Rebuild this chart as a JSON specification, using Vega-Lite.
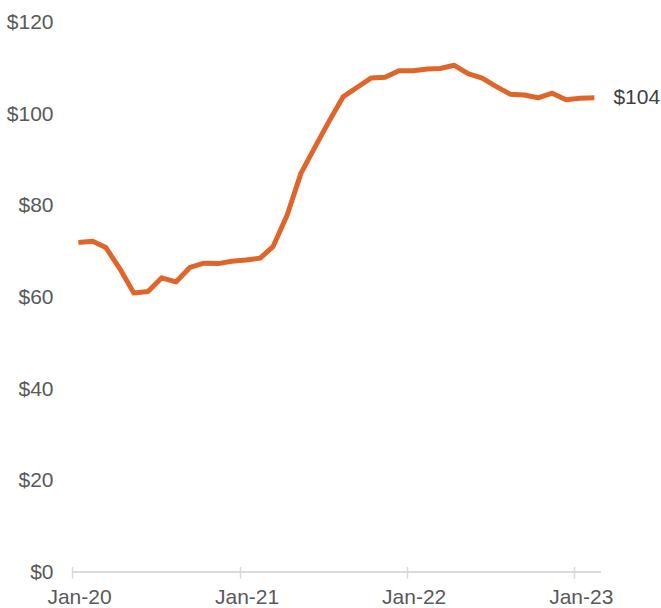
{
  "$schema": "https://vega.github.io/schema/vega-lite/v6.json",
  "autosize": "none",
  "width": 528.8,
  "height": 549.6,
  "padding": {"left": 72, "top": 22.7, "right": 60.2, "bottom": 35.7},
  "background": "white",
  "config": {"view": {"stroke": null}},
  "data": {
    "values": [
      {"date": "2020-01-15", "price": 72.0},
      {"date": "2020-02-15", "price": 72.3},
      {"date": "2020-03-15", "price": 70.9},
      {"date": "2020-04-15", "price": 66.2},
      {"date": "2020-05-15", "price": 61.0},
      {"date": "2020-06-15", "price": 61.3},
      {"date": "2020-07-15", "price": 64.3},
      {"date": "2020-08-15", "price": 63.4},
      {"date": "2020-09-15", "price": 66.6},
      {"date": "2020-10-15", "price": 67.5},
      {"date": "2020-11-15", "price": 67.4},
      {"date": "2020-12-15", "price": 67.9},
      {"date": "2021-01-15", "price": 68.2},
      {"date": "2021-02-15", "price": 68.6},
      {"date": "2021-03-15", "price": 71.1},
      {"date": "2021-04-15", "price": 78.0},
      {"date": "2021-05-15", "price": 87.1},
      {"date": "2021-06-15", "price": 92.9},
      {"date": "2021-07-15", "price": 98.4},
      {"date": "2021-08-15", "price": 103.8},
      {"date": "2021-09-15", "price": 105.9},
      {"date": "2021-10-15", "price": 107.9},
      {"date": "2021-11-15", "price": 108.1},
      {"date": "2021-12-15", "price": 109.5},
      {"date": "2022-01-15", "price": 109.5},
      {"date": "2022-02-15", "price": 109.9},
      {"date": "2022-03-15", "price": 110.0},
      {"date": "2022-04-15", "price": 110.7},
      {"date": "2022-05-15", "price": 108.9},
      {"date": "2022-06-15", "price": 107.9},
      {"date": "2022-07-15", "price": 106.1},
      {"date": "2022-08-15", "price": 104.4},
      {"date": "2022-09-15", "price": 104.2},
      {"date": "2022-10-15", "price": 103.6},
      {"date": "2022-11-15", "price": 104.6},
      {"date": "2022-12-15", "price": 103.2},
      {"date": "2023-01-15", "price": 103.5},
      {"date": "2023-02-15", "price": 103.6}
    ]
  },
  "encoding": {
    "x": {
      "field": "date",
      "type": "temporal",
      "scale": {
        "type": "utc",
        "domain": [
          {"year": 2020, "month": 1, "date": 1, "utc": true},
          {"year": 2023, "month": 3, "date": 1, "utc": true}
        ]
      },
      "axis": {
        "title": null,
        "format": "%b-%y",
        "tickCount": {"interval": "year", "step": 1},
        "domain": false,
        "grid": false,
        "ticks": true,
        "tickSize": 12,
        "tickColor": "#d9d9d9",
        "tickWidth": 1.5,
        "offset": -6,
        "labelPadding": 8,
        "labelOffset": 7,
        "labelFlush": false,
        "labelBound": false,
        "labelOverlap": false,
        "labelFont": "Liberation Sans",
        "labelFontSize": 21,
        "labelColor": "#595959"
      }
    },
    "y": {
      "field": "price",
      "type": "quantitative",
      "scale": {"domain": [0, 120], "nice": false, "zero": true},
      "axis": {
        "title": null,
        "values": [0, 20, 40, 60, 80, 100, 120],
        "format": "$.0f",
        "domain": false,
        "ticks": false,
        "grid": false,
        "labelPadding": 19,
        "labelFont": "Liberation Sans",
        "labelFontSize": 21,
        "labelColor": "#595959"
      }
    }
  },
  "layer": [
    {
      "mark": {"type": "rule", "color": "#d9d9d9", "strokeWidth": 1.5},
      "encoding": {"y": {"datum": 0}, "x": null}
    },
    {
      "mark": {"type": "line", "color": "#e0652b", "strokeWidth": 5, "strokeJoin": "round"}
    },
    {
      "transform": [{"filter": "utcyear(datum.date) == 2023 && utcmonth(datum.date) == 1"}],
      "mark": {
        "type": "text",
        "align": "left",
        "baseline": "middle",
        "dx": 19,
        "font": "Liberation Sans",
        "fontSize": 21,
        "color": "#404040"
      },
      "encoding": {
        "text": {"field": "price", "type": "quantitative", "format": "$.0f"}
      }
    }
  ]
}
